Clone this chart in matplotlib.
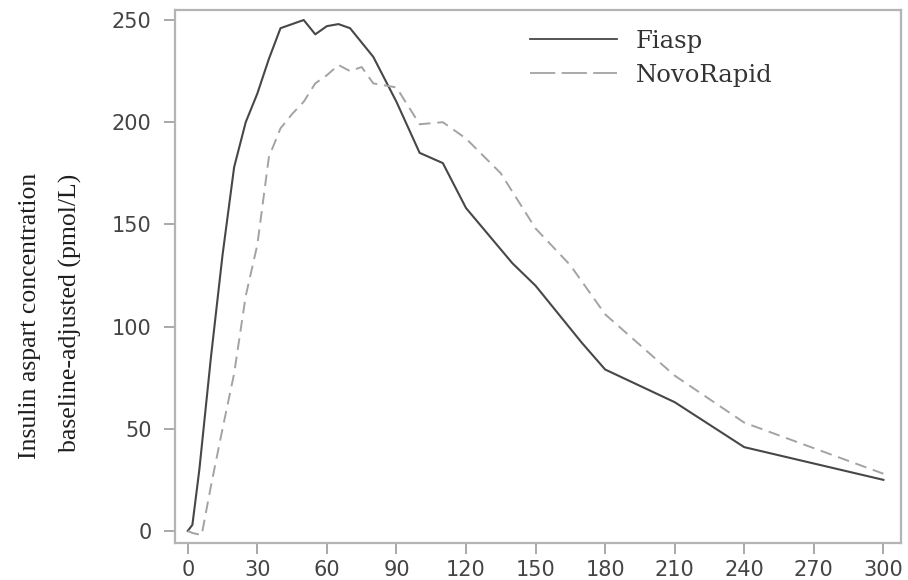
import matplotlib
matplotlib.use("Agg")
import matplotlib.pyplot as plt
from matplotlib.lines import Line2D

# Baseline-adjusted insulin aspart concentration (pmol/L) over time (min)
fiasp_time = [0, 2, 5, 10, 15, 20, 25, 30, 35, 40, 45, 50, 55, 60, 65, 70,
              80, 90, 100, 110, 120, 140, 150, 160, 170, 180, 210, 240, 300]
fiasp_conc = [0, 3, 30, 85, 135, 178, 200, 214, 231, 246, 248, 250, 243, 247,
              248, 246, 232, 210, 185, 180, 158, 131, 120, 106, 92, 79, 63, 41, 25]

novo_time = [0, 2, 6, 10, 15, 20, 25, 30, 35, 40, 45, 50, 55, 60, 65, 70, 75,
             80, 90, 100, 110, 120, 135, 150, 165, 180, 210, 240, 300]
novo_conc = [0, -1, -2, 22, 50, 77, 115, 140, 183, 197, 204, 210, 219, 223,
             228, 225, 227, 219, 217, 199, 200, 192, 175, 148, 130, 106, 76, 53, 28]

series_names = ["Fiasp", "NovoRapid"]
x_ticks = [0, 30, 60, 90, 120, 150, 180, 210, 240, 270, 300]
y_ticks = [0, 50, 100, 150, 200, 250]
ylabel_lines = ["Insulin aspart concentration", "baseline-adjusted (pmol/L)"]

fig = plt.figure(figsize=(9.08, 5.80), dpi=100)
ax = fig.add_axes([175 / 908, 1 - 543 / 580, (901 - 175) / 908, (543 - 10) / 580])

solid_color = "#474747"
dash_color = "#a3a3a3"

ax.plot(fiasp_time, fiasp_conc, color=solid_color, lw=1.5, solid_joinstyle="round")
ax.plot(novo_time, novo_conc, color=dash_color, lw=1.4, dashes=(6, 3.5))

ax.set_xlim(-5.5, 307.6)
ax.set_ylim(-5.9, 254.9)
ax.set_xticks(x_ticks)
ax.set_yticks(y_ticks)

for side in ["left", "right", "top", "bottom"]:
    ax.spines[side].set_color("#b4b4b4")
    ax.spines[side].set_linewidth(1.6)

ax.tick_params(axis="both", direction="out", length=8, width=1.2,
               color="#9a9a9a", labelcolor="#444444", labelsize=15)
ax.tick_params(axis="y", pad=9)
ax.tick_params(axis="x", pad=4)

# Two-line rotated y-axis title in a serif face
fig.text(30 / 908, 1 - 316 / 580, ylabel_lines[0], rotation=90, ha="center",
         va="center", family="Liberation Serif", fontsize=18.5, color="#1e1e1e")
fig.text(70 / 908, 1 - 313 / 580, ylabel_lines[1], rotation=90, ha="center",
         va="center", family="Liberation Serif", fontsize=18.5, color="#1e1e1e")

handles = [
    Line2D([], [], color=solid_color, lw=1.3),
    Line2D([], [], color=dash_color, lw=1.3, dashes=(14, 3.5)),
]
leg = ax.legend(handles, series_names, loc="upper left",
                bbox_to_anchor=((520 - 175) / (901 - 175), 1 - (20 - 10) / (543 - 10)),
                frameon=False, handlelength=3.6, handletextpad=0.75,
                labelspacing=0.45, borderaxespad=0,
                prop={"family": "DejaVu Serif", "size": 17.5})
for t in leg.get_texts():
    t.set_color("#333333")

fig.savefig("out.png", dpi=100)
